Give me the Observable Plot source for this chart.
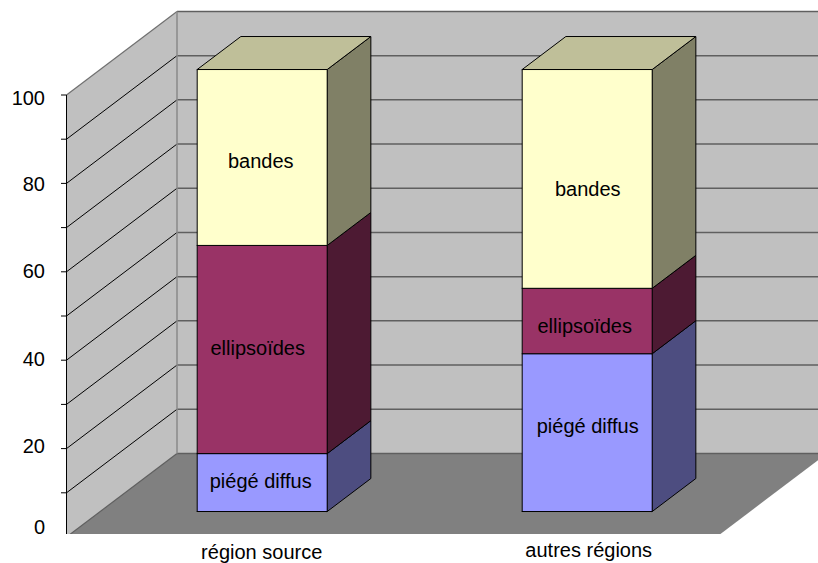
<!DOCTYPE html>
<html>
<head>
<meta charset="utf-8">
<script src="https://cdn.jsdelivr.net/npm/d3@7"></script>
<script src="https://cdn.jsdelivr.net/npm/@observablehq/plot@0.6"></script>
<style>html,body{margin:0;padding:0;background:#fff}svg{display:block}</style>
</head>
<body>
<div id="chart"></div>
<script>
const categories = ["région source", "autres régions"];
const series = ["piégé diffus", "ellipsoïdes", "bandes"];
const piegeDiffus = [13.1, 35.7];
const ellipsoides = [47.1, 14.8];
const bandes = [39.8, 49.5];
const yTicks = [0, 10, 20, 30, 40, 50, 60, 70, 80, 90, 100];
const yLabels = [0, 20, 40, 60, 80, 100];

const seriesValues = [piegeDiffus, ellipsoides, bandes];
const frontColors = ["#9999FF", "#993366", "#FFFFCC"];
const sideColors = ["#4D4D80", "#4D1A33", "#808066"];
const topColor = "#BFBF99";

// oblique projection: depth d (0 front .. 1 back wall) shifts in data units
const depthX = 0.34, depthY = 18.9;
const P = (x, v, d = 0) => ({x: x + d * depthX, y: v + d * depthY});
const face = (pts, fill, stroke = "#000", strokeWidth = 1) =>
  Plot.line([...pts, pts[0]], {x: "x", y: "y", fill, stroke, strokeWidth, strokeLinejoin: "miter", clip: true});

const zFront = 0.305, zBack = 0.7, halfBar = 0.2, far = 3, barShift = -0.5 / 325;
const marks = [];

// walls and floor
marks.push(face([P(0,0),P(0,100),P(0,100,1),P(0,0,1)], "#C0C0C0", "none"));
marks.push(face([P(0,0,1),P(0,100,1),P(far,100,1),P(far,0,1)], "#C0C0C0", "none"));
marks.push(face([P(0,0),P(2,0),P(2,0,1),P(0,0,1)], "#808080", "none"));

// gridlines
const link = (data, o) => Plot.link(data, {clip: true, ...o});
marks.push(link(yTicks.slice(1, -1), {x1: 0, y1: v => v, x2: depthX, y2: v => v + depthY, stroke: "#000", strokeWidth: 1}));
marks.push(link(yTicks, {x1: depthX, y1: v => v + depthY, x2: far, y2: v => v + depthY, stroke: "#5f5f5f", strokeWidth: 1.5}));
marks.push(link([0], {x1: 0, y1: 100, x2: depthX, y2: 100 + depthY, stroke: "#707070", strokeWidth: 1.2}));
marks.push(link([0], {x1: 0, y1: 0, x2: depthX, y2: depthY, stroke: "#5f5f5f", strokeWidth: 1.2}));
marks.push(link([0], {x1: depthX, y1: depthY, x2: depthX, y2: 100 + depthY, stroke: "#8a8a8a", strokeWidth: 1.5}));

// value axis
marks.push(link([0], {x1: 0, y1: 0, x2: 0, y2: 100, stroke: "#000", strokeWidth: 1}));
marks.push(link(yTicks.slice(1), {x1: -5.5 / 325, y1: v => v, x2: 0, y2: v => v, stroke: "#000", strokeWidth: 1}));

// bars
categories.forEach((c, i) => {
  const cx = i + 0.5 + barShift, x0 = cx - halfBar, x1 = cx + halfBar;
  let base = 0;
  seriesValues.forEach((vals, s) => {
    const top = base + vals[i];
    marks.push(face([P(x1,base,zFront),P(x1,base,zBack),P(x1,top,zBack),P(x1,top,zFront)], sideColors[s]));
    marks.push(face([P(x0,base,zFront),P(x1,base,zFront),P(x1,top,zFront),P(x0,top,zFront)], frontColors[s]));
    base = top;
  });
  marks.push(face([P(x0,base,zFront),P(x1,base,zFront),P(x1,base,zBack),P(x0,base,zBack)], topColor));
});

// segment labels: centred on each front face, with Excel's small offsets (px)
const labelNudge = [[[-2,-0.5],[-5,-1],[-2,4]], [[0,-6],[-3,6],[0,11]]];
const segLabels = [];
categories.forEach((c, i) => {
  let base = 0;
  seriesValues.forEach((vals, s) => {
    const p = P(i + 0.5, base + vals[i] / 2, zFront);
    segLabels.push({...p, label: series[s], dx: labelNudge[i][s][0], dy: labelNudge[i][s][1]});
    base += vals[i];
  });
});
const font = {fontFamily: "Liberation Sans, Arial, sans-serif", fontSize: 20, fill: "#000"};
segLabels.forEach(d => marks.push(Plot.text([d], {x: "x", y: "y", text: "label", dx: d.dx, dy: d.dy, lineAnchor: "middle", ...font})));

// value labels
const yLabelNudge = {0: -9, 20: -2.5, 40: -1, 60: -0.5, 80: 1.5, 100: 3.5};
yLabels.forEach(v => marks.push(Plot.text([v], {x: 0, y: d => d, text: d => String(d), dx: -21.5, dy: yLabelNudge[v], textAnchor: "end", lineAnchor: "middle", ...font})));

// category labels
const catNudge = [[-1, 15.5], [1, 13.5]];
categories.forEach((c, i) => marks.push(Plot.text([c], {x: i + 0.5 + zFront * depthX, y: 0, text: d => d, dx: catNudge[i][0], dy: catNudge[i][1], lineAnchor: "middle", ...font})));

document.getElementById("chart").append(Plot.plot({
  width: 818, height: 563,
  marginTop: 0, marginRight: 0, marginBottom: 29, marginLeft: 0,
  x: {axis: null, domain: [0, 2], range: [66, 716]},
  y: {axis: null, domain: [0, 100], range: [536.5, 94.5]},
  style: {background: "#fff"},
  marks
}));
</script>
</body>
</html>
